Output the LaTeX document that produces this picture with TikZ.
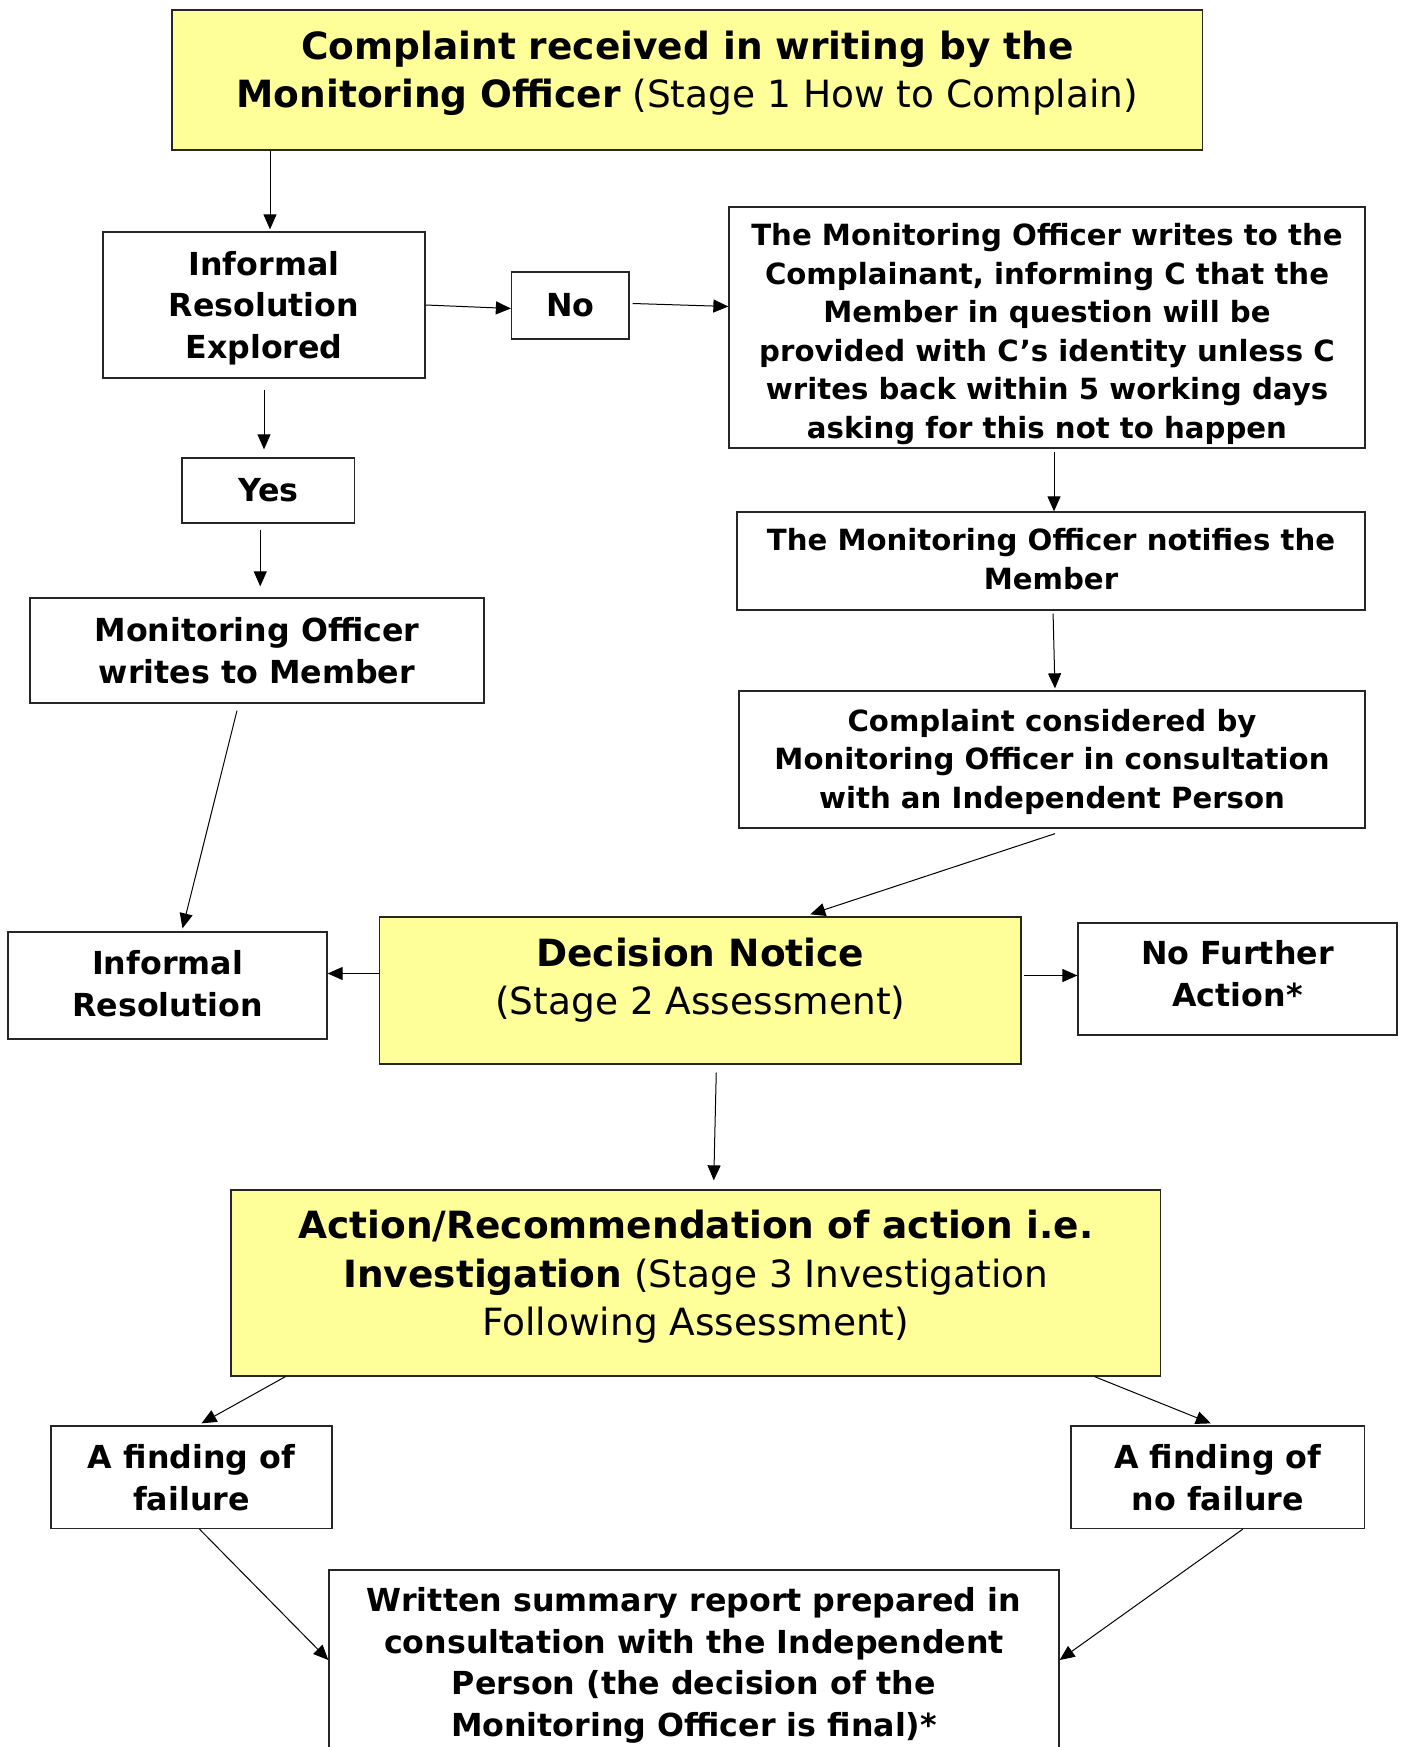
\documentclass[tikz,border=0pt]{standalone}
\usepackage{fontspec}
\setmainfont{DejaVu Sans}
\usetikzlibrary{arrows, arrows.meta}
\definecolor{paleyellow}{RGB}{255,255,153}

\begin{document}
\begin{tikzpicture}[x=1pt, y=-1pt,
  box/.style={draw=black!85, line width=1.3pt, inner sep=0pt, align=center},
  yellowbox/.style={box, fill=paleyellow, font=\fontsize{37.5}{48.5}\selectfont},
  midbox/.style={box, font=\fontsize{31.7}{41.5}\selectfont\bfseries},
  smallbox/.style={box, font=\fontsize{29.2}{38.5}\selectfont\bfseries},
  lastline/.style={text depth=0pt, text height=#1},
  arr/.style={line width=1pt, -{Triangle[length=15pt,width=13pt]}}]
\useasboundingbox (0,0) rectangle (1404,1747);

\node[yellowbox, minimum width=1030.6, minimum height=140, lastline=56] (top) at (687.3,80)
  {\textbf{Complaint received in writing by the}\\\textbf{Monitoring Officer} (Stage 1 How to Complain)};
\node[midbox, minimum width=322, minimum height=146, lastline=106] (ire) at (264,305) {Informal\\Resolution\\Explored};
\node[midbox, minimum width=117.5, minimum height=67] (no) at (570.25,305.5) {No};
\node[smallbox, minimum width=636, minimum height=241, lastline=221] (mow) at (1047,327.5)
  {The Monitoring Officer writes to the\\Complainant, informing C that the\\Member in question will be\\provided with C’s identity unless C\\writes back within 5 working days\\asking for this not to happen};
\node[midbox, minimum width=172.5, minimum height=65] (yes) at (268.25,490.5) {Yes};
\node[midbox, minimum width=454, minimum height=105, lastline=65] (mowm) at (257,650.5) {Monitoring Officer\\writes to Member};
\node[smallbox, minimum width=628, minimum height=98, lastline=56] (notifies) at (1051,561) {The Monitoring Officer notifies the\\Member};
\node[smallbox, minimum width=626, minimum height=137, lastline=97] (cc) at (1052,759.5)
  {Complaint considered by\\Monitoring Officer in consultation\\with an Independent Person};
\node[yellowbox, minimum width=641.5, minimum height=147, lastline=48] (decision) at (700.25,990.5)
  {\textbf{Decision Notice}\\(Stage 2 Assessment)};
\node[midbox, minimum width=319, minimum height=107, lastline=61] (ir) at (167.5,985.5) {Informal\\Resolution};
\node[midbox, minimum width=319, minimum height=112, lastline=54] (nfa) at (1237.5,979) {No Further\\Action*};
\node[yellowbox, minimum width=929.5, minimum height=186, lastline=105] (action) at (695.75,1283)
  {\textbf{Action/Recommendation of action i.e.}\\\textbf{Investigation} (Stage 3 Investigation\\Following Assessment)};
\node[midbox, minimum width=281, minimum height=102.5, lastline=66] (failure) at (191.5,1477.25) {A finding of\\failure};
\node[midbox, minimum width=293.6, minimum height=102.5, lastline=66] (nofailure) at (1217.8,1477.25) {A finding of\\no failure};
\node[midbox, minimum width=730, minimum height=200, lastline=132] (written) at (694,1670)
  {Written summary report prepared in\\consultation with the Independent\\Person (the decision of the\\Monitoring Officer is final)*};

\draw[arr] ([xshift=6pt]ire.north |- top.south) -- ([xshift=6pt,yshift=2pt]ire.north);
\draw[arr] (ire.east) -- ([yshift=-3pt]no.west);
\draw[arr] ([xshift=3pt,yshift=2pt]no.east) -- ([yshift=-1pt]no.east -| mow.west);
\draw[arr, shorten <=11pt, shorten >=8pt] (ire.south) -- (ire.south |- yes.north);
\draw[arr, shorten <=6pt, shorten >=11pt] ([xshift=-8pt]yes.south) -- ([xshift=-8pt]yes.south |- mowm.north);
\draw[arr] ([xshift=-20pt,yshift=-7pt]mowm.south) -- ([xshift=15pt,yshift=3pt]ir.north);
\draw[arr, shorten <=3pt] ([xshift=7pt]mow.south) -- ([xshift=7pt]mow.south |- notifies.north);
\draw[arr, shorten <=3pt, shorten >=2pt] ([xshift=2pt]notifies.south) -- ([xshift=3pt]cc.north);
\draw[arr] ([xshift=3pt,yshift=-5pt]cc.south) -- ([xshift=110pt,yshift=2pt]decision.north);
\draw[arr] ([yshift=17pt]decision.west) -- ([yshift=17pt]decision.west -| ir.east);
\draw[arr] ([xshift=2pt,yshift=15pt]decision.east) -- ([yshift=15pt]decision.east -| nfa.west);
\draw[arr] ([xshift=16pt,yshift=-8pt]decision.south) -- ([xshift=18pt,yshift=9pt]action.north);
\draw[arr] ([xshift=55pt]action.south west) -- ([xshift=10pt,yshift=2pt]failure.north);
\draw[arr] ([xshift=-66.5pt]action.south east) -- ([xshift=-7pt,yshift=2pt]nofailure.north);
\draw[arr] ([xshift=8pt]failure.south) -- ([yshift=10pt]written.west);
\draw[arr] ([xshift=25pt]nofailure.south) -- ([yshift=10pt]written.east);
\end{tikzpicture}
\end{document}
